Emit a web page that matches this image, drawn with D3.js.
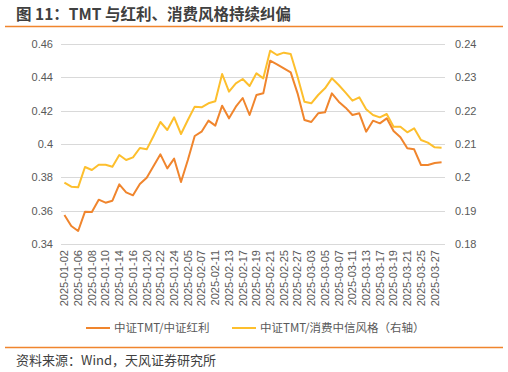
<!DOCTYPE html>
<html>
<head>
<meta charset="utf-8">
<script src="https://cdn.jsdelivr.net/npm/d3@7"></script>
<style>
  body { margin: 0; background: #fff; }
  text { font-family: "Liberation Sans", Arial, "Noto Sans CJK SC", sans-serif; }
  .cn { font-family: "Noto Sans CJK SC", sans-serif; }
</style>
</head>
<body>
<svg id="chart" width="508" height="372"></svg>
<script>
// trading days, Jan 2 – Mar 28 2025
const dates = [
  '2025-01-02','2025-01-03','2025-01-06','2025-01-07','2025-01-08','2025-01-09','2025-01-10','2025-01-13','2025-01-14',
  '2025-01-15','2025-01-16','2025-01-17','2025-01-20','2025-01-21','2025-01-22','2025-01-23','2025-01-24','2025-01-27',
  '2025-02-05','2025-02-06','2025-02-07','2025-02-10','2025-02-11','2025-02-12','2025-02-13','2025-02-14','2025-02-17',
  '2025-02-18','2025-02-19','2025-02-20','2025-02-21','2025-02-24','2025-02-25','2025-02-26','2025-02-27','2025-02-28',
  '2025-03-03','2025-03-04','2025-03-05','2025-03-06','2025-03-07','2025-03-10','2025-03-11','2025-03-12','2025-03-13',
  '2025-03-14','2025-03-17','2025-03-18','2025-03-19','2025-03-20','2025-03-21','2025-03-24','2025-03-25','2025-03-26',
  '2025-03-27','2025-03-28'
];

// 中证TMT/中证红利 (left axis)
const tmtDividend = [
  0.3574,0.3508,0.3478,0.3594,0.3592,0.3666,0.3648,0.3660,0.3758,
  0.3710,0.3692,0.3760,0.3798,0.3868,0.3938,0.3854,0.3912,0.3772,
  0.3904,0.4048,0.4074,0.4140,0.4110,0.4230,0.4154,0.4224,0.4276,
  0.4174,0.4294,0.4304,0.4500,0.4478,0.4454,0.4430,0.4304,0.4144,
  0.4132,0.4184,0.4190,0.4304,0.4254,0.4218,0.4174,0.4184,0.4074,
  0.4140,0.4124,0.4154,0.4078,0.4040,0.3974,0.3968,0.3874,0.3874,
  0.3886,0.3890
];

// 中证TMT/消费中信风格 (right axis)
const tmtConsumer = [
  0.1984,0.1972,0.1970,0.2031,0.2022,0.2038,0.2038,0.2032,0.2067,
  0.2052,0.2060,0.2088,0.2084,0.2124,0.2166,0.2142,0.2180,0.2130,
  0.2172,0.2212,0.2210,0.2222,0.2228,0.2310,0.2257,0.2282,0.2295,
  0.2274,0.2312,0.2297,0.2380,0.2367,0.2374,0.2370,0.2302,0.2227,
  0.2222,0.2247,0.2267,0.2297,0.2277,0.2254,0.2230,0.2240,0.2204,
  0.2187,0.2180,0.2190,0.2152,0.2152,0.2135,0.2147,0.2112,0.2104,
  0.2090,0.2089
];

const leftTicks = [0.34, 0.36, 0.38, 0.40, 0.42, 0.44, 0.46];
const rightTicks = [0.18, 0.19, 0.20, 0.21, 0.22, 0.23, 0.24];
const seriesNames = ['中证TMT/中证红利', '中证TMT/消费中信风格（右轴）'];
const colors = ['#F0852D', '#FDBF2D'];

const svg = d3.select('#chart');
const plot = {left: 61, right: 445, top: 44, bottom: 244};

// Header
svg.append('text')
  .attr('class', 'cn')
  .attr('x', 16).attr('y', 20)
  .attr('font-size', '15.5px')
  .attr('font-weight', 'bold')
  .attr('fill', '#404040')
  .text('图 11：TMT 与红利、消费风格持续纠偏');
svg.append('line')
  .attr('x1', 5).attr('x2', 503).attr('y1', 26.5).attr('y2', 26.5)
  .attr('stroke', '#F0852D').attr('stroke-width', 1.5);

// Scales
const x = d3.scaleBand().domain(dates).range([plot.left, plot.right]).padding(0);
const yL = d3.scaleLinear().domain([0.34, 0.46]).range([plot.bottom, plot.top]);
const yR = d3.scaleLinear().domain([0.18, 0.24]).range([plot.bottom, plot.top]);
const cx = d => x(d) + x.bandwidth() / 2;

// Gridlines
svg.append('g')
  .selectAll('line')
  .data(leftTicks)
  .join('line')
  .attr('x1', plot.left).attr('x2', plot.right)
  .attr('y1', d => Math.round(yL(d)) + 0.5).attr('y2', d => Math.round(yL(d)) + 0.5)
  .attr('stroke', '#D9D9D9').attr('stroke-width', 1);

// Left axis
const leftAxis = svg.append('g')
  .attr('transform', `translate(${plot.left},0)`)
  .call(d3.axisLeft(yL).tickValues(leftTicks).tickSize(0).tickPadding(8).tickFormat(d3.format('')));
leftAxis.select('.domain').remove();
leftAxis.selectAll('text')
  .attr('font-size', '11px').attr('fill', '#595959')
  .attr('font-family', '"Liberation Sans", Arial, sans-serif');

// Right axis
const rightAxis = svg.append('g')
  .attr('transform', `translate(${plot.right},0)`)
  .call(d3.axisRight(yR).tickValues(rightTicks).tickSize(0).tickPadding(10).tickFormat(d3.format('')));
rightAxis.select('.domain').remove();
rightAxis.selectAll('text')
  .attr('font-size', '11px').attr('fill', '#595959')
  .attr('font-family', '"Liberation Sans", Arial, sans-serif');

// X axis: label every other trading day
const xAxis = svg.append('g')
  .attr('transform', `translate(0,${plot.bottom})`)
  .call(d3.axisBottom(x).tickValues(dates.filter((d, i) => i % 2 === 0)).tickSize(0).tickPadding(0));
xAxis.select('.domain').remove();
xAxis.selectAll('text')
  .attr('font-size', '11px').attr('fill', '#595959')
  .attr('font-family', '"Liberation Sans", Arial, sans-serif')
  .attr('text-anchor', 'end')
  .attr('transform', 'rotate(-90)')
  .attr('x', -6).attr('y', 0).attr('dy', '0.35em');

// Lines
const lineL = d3.line().x((d, i) => cx(dates[i])).y(d => yL(d));
const lineR = d3.line().x((d, i) => cx(dates[i])).y(d => yR(d));

svg.append('path')
  .attr('d', lineR(tmtConsumer))
  .attr('fill', 'none').attr('stroke', colors[1]).attr('stroke-width', 2)
  .attr('stroke-linejoin', 'round');
svg.append('path')
  .attr('d', lineL(tmtDividend))
  .attr('fill', 'none').attr('stroke', colors[0]).attr('stroke-width', 2)
  .attr('stroke-linejoin', 'round');

// Legend
const legendPos = [86, 232];
seriesNames.forEach((name, i) => {
  const g = svg.append('g').attr('transform', `translate(${legendPos[i]},328)`);
  g.append('line')
    .attr('x1', 0).attr('x2', 24).attr('y1', 0).attr('y2', 0)
    .attr('stroke', colors[i]).attr('stroke-width', 2);
  g.append('text')
    .attr('class', 'cn')
    .attr('x', 28).attr('y', 0).attr('dy', '0.35em')
    .attr('font-size', '11.5px').attr('fill', '#595959')
    .text(name);
});

// Footer
svg.append('line')
  .attr('x1', 5).attr('x2', 503).attr('y1', 347.5).attr('y2', 347.5)
  .attr('stroke', '#F0852D').attr('stroke-width', 1.5);
svg.append('text')
  .attr('class', 'cn')
  .attr('x', 16).attr('y', 365)
  .attr('font-size', '13px').attr('fill', '#404040')
  .text('资料来源：Wind，天风证券研究所');
</script>
</body>
</html>
